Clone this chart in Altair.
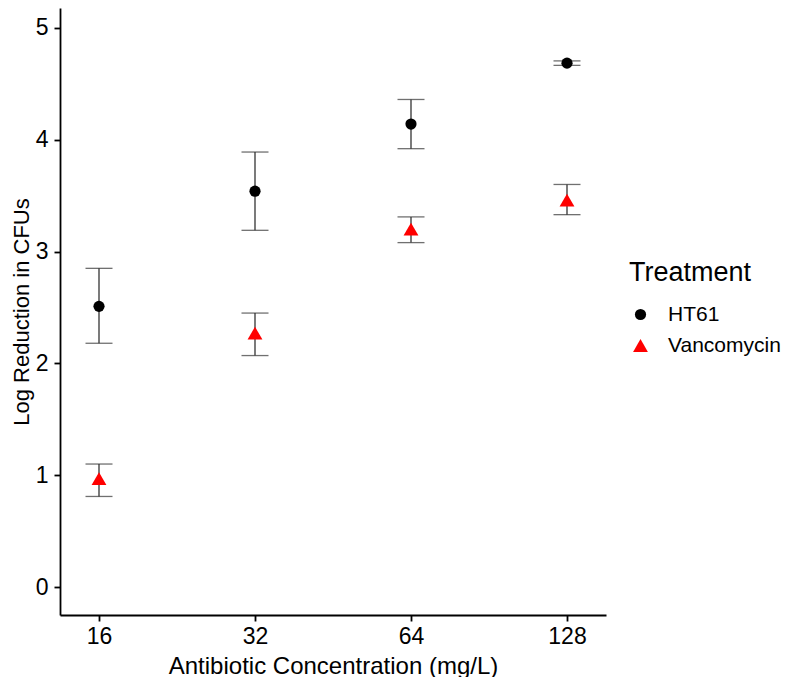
import altair as alt
import pandas as pd

concentrations = ["16", "32", "64", "128"]
treatments = ["HT61", "Vancomycin"]

ht61_mean = [2.51, 3.54, 4.14, 4.685]
ht61_lo = [2.18, 3.19, 3.92, 4.665]
ht61_hi = [2.85, 3.89, 4.36, 4.705]

van_mean = [0.97, 2.27, 3.20, 3.46]
van_lo = [0.81, 2.07, 3.08, 3.33]
van_hi = [1.10, 2.45, 3.31, 3.60]

y_ticks = [0, 1, 2, 3, 4, 5]

rows = []
for i, c in enumerate(concentrations):
    rows.append({"conc": c, "Treatment": "HT61", "mean": ht61_mean[i], "lo": ht61_lo[i], "hi": ht61_hi[i]})
for i, c in enumerate(concentrations):
    rows.append({"conc": c, "Treatment": "Vancomycin", "mean": van_mean[i], "lo": van_lo[i], "hi": van_hi[i]})
df = pd.DataFrame(rows)

FONT = "Liberation Sans"

x_enc = alt.X(
    "conc:N",
    sort=concentrations,
    scale=alt.Scale(type="point", padding=0.25),
    axis=alt.Axis(title="Antibiotic Concentration (mg/L)", labelAngle=0,
                  labelPadding=4, titlePadding=6),
)
y_scale = alt.Scale(domain=[-0.25, 5.178], nice=False, zero=False)

base = alt.Chart(df)

ERR = "#333333"
rules = base.mark_rule(color=ERR, strokeWidth=1.3).encode(
    x=x_enc,
    y=alt.Y("lo:Q", scale=y_scale,
            axis=alt.Axis(title="Log Reduction in CFUs", values=y_ticks, format="d",
                          labelPadding=6, titlePadding=2, titleFontSize=22)),
    y2="hi:Q",
)
caps_lo = base.mark_tick(color=ERR, thickness=1.3, size=27).encode(
    x=x_enc, y=alt.Y("lo:Q", scale=y_scale)
)
caps_hi = base.mark_tick(color=ERR, thickness=1.3, size=27).encode(
    x=x_enc, y=alt.Y("hi:Q", scale=y_scale)
)
points = base.mark_point(filled=True, opacity=1).encode(
    x=x_enc,
    y=alt.Y("mean:Q", scale=y_scale),
    color=alt.Color(
        "Treatment:N",
        scale=alt.Scale(domain=treatments, range=["#000000", "#FF0000"]),
        legend=alt.Legend(
            title="Treatment",
            orient="none",
            legendX=569,
            legendY=252,
        ),
    ),
    shape=alt.Shape(
        "Treatment:N",
        scale=alt.Scale(domain=treatments, range=["circle", "triangle-up"]),
    ),
    size=alt.Size(
        "Treatment:N",
        scale=alt.Scale(domain=treatments, range=[125, 220]),
    ),
)

chart = (
    alt.layer(rules, caps_lo, caps_hi, points)
    .properties(
        width=546,
        height=607,
        autosize=alt.AutoSizeParams(type="none"),
        padding={"left": 52, "top": 0, "right": 186, "bottom": 62},
    )
    .configure_view(stroke=None)
    .configure_axis(
        grid=False,
        domainColor="#000000",
        domainWidth=1.8,
        tickColor="#000000",
        tickWidth=1.8,
        tickSize=6,
        labelFont=FONT,
        labelFontSize=23,
        labelColor="#000000",
        titleFont=FONT,
        titleFontSize=24,
        titleFontWeight="normal",
        titleColor="#000000",
    )
    .configure_legend(
        titleFont=FONT,
        titleFontSize=27,
        titleFontWeight="normal",
        titleColor="#000000",
        titlePadding=17,
        labelFont=FONT,
        labelFontSize=21,
        labelColor="#000000",
        labelOffset=17,
        rowPadding=9,
        padding=0,
        symbolOffset=1,
    )
)

chart.save("out.html", embed_options={"renderer": "svg", "actions": False})
